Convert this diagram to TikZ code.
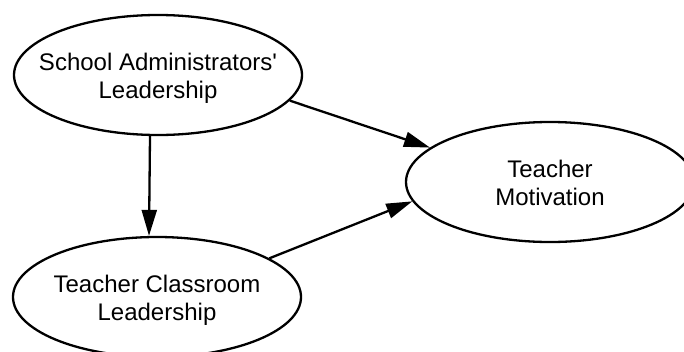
\documentclass[tikz,border=0pt]{standalone}
\usepackage{fontspec}
\setmainfont{Liberation Sans}
\usetikzlibrary{shapes.geometric,arrows.meta}
% centred label whose width does not enlarge the ellipse around it
\newcommand{\clabel}[1]{\makebox[0pt][c]{\begin{tabular}{@{}c@{}}#1\end{tabular}}}
\begin{document}
\begin{tikzpicture}[x=1pt,y=-1pt,
  construct/.style={ellipse,draw,line width=2.3pt,minimum width=288pt,minimum height=120pt,
    inner sep=0pt,font=\fontsize{24}{28}\selectfont},
  label/.style={inner sep=0pt,font=\fontsize{24}{28}\selectfont},
  path/.style={line width=2.3pt,-{Triangle[length=26pt,width=15pt]}}]
  \useasboundingbox (0,0) rectangle (684,351);
  \clip (0,0) rectangle (684,351);
  \node[construct] (sal) at (158,75) {};
  \node[construct] (tcl) at (157,297) {};
  \node[construct] (tm) at (550,182) {};
  \node[label] (salt) at ([yshift=-4pt]sal.center) {\clabel{School Administrators\textquotesingle\\Leadership}};
  \node[label] (tclt) at ([yshift=-4pt]tcl.center) {\clabel{Teacher Classroom\\Leadership}};
  \node[label] (tmt) at ([yshift=-4pt]tm.center) {\clabel{Teacher\\Motivation}};
  \draw[path] ([xshift=-8pt]sal.south) -- ([xshift=-8pt]tcl.north);
  \draw[path] (sal.-11) -- (tm.164);
  \draw[path] (tcl.19) -- (tm.188);
\end{tikzpicture}
\end{document}
